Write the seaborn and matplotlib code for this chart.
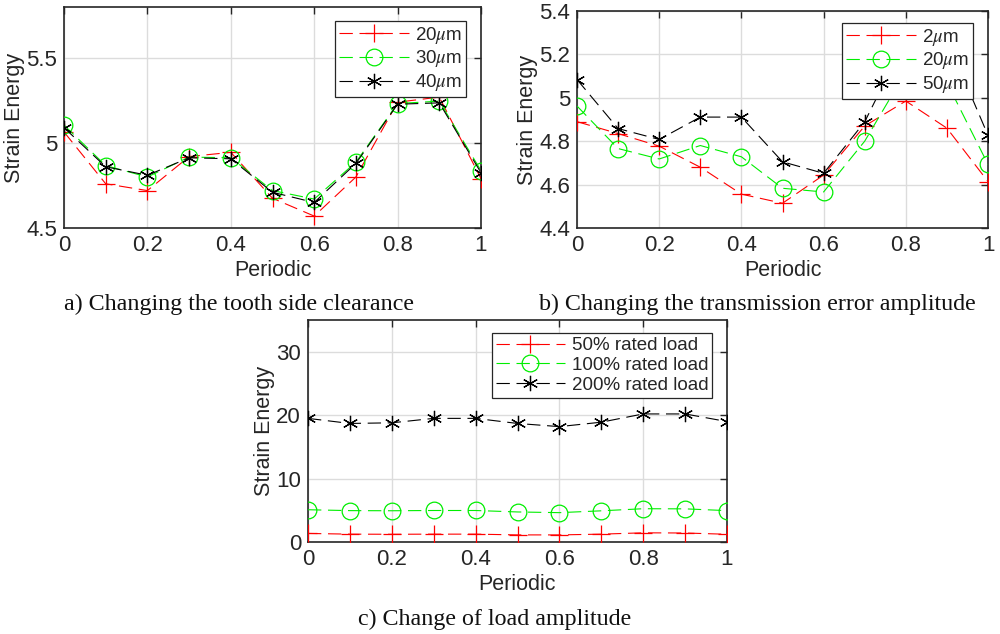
import numpy as np
import pandas as pd
import matplotlib
matplotlib.use("Agg")
import matplotlib.pyplot as plt
import seaborn as sns
from matplotlib.ticker import FuncFormatter

# shared x axis: fraction of the period
periodic = [0, 0.1, 0.2, 0.3, 0.4, 0.5, 0.6, 0.7, 0.8, 0.9, 1.0]

# a) tooth side clearance
clear_labels = [r"20$\mu$m", r"30$\mu$m", r"40$\mu$m"]
clear_20 = [5.065, 4.76, 4.72, 4.92, 4.945, 4.675, 4.57, 4.80, 5.24, 5.27, 4.79]
clear_30 = [5.105, 4.867, 4.80, 4.917, 4.913, 4.72, 4.67, 4.887, 5.232, 5.246, 4.837]
clear_40 = [5.09, 4.86, 4.81, 4.913, 4.907, 4.71, 4.65, 4.88, 5.228, 5.236, 4.825]

# b) transmission error amplitude
te_labels = [r"2$\mu$m", r"20$\mu$m", r"50$\mu$m"]
te_2 = [4.89, 4.835, 4.777, 4.68, 4.556, 4.514, 4.644, 4.87, 4.985, 4.86, 4.614]
te_20 = [4.962, 4.766, 4.718, 4.78, 4.728, 4.583, 4.566, 4.80, 5.12, 5.07, 4.693]
te_50 = [5.084, 4.858, 4.808, 4.911, 4.911, 4.705, 4.652, 4.889, 5.27, 5.27, 4.827]

# c) load amplitude
load_labels = ["50% rated load", "100% rated load", "200% rated load"]
load_50 = [1.35, 1.24, 1.22, 1.24, 1.24, 1.12, 1.12, 1.24, 1.45, 1.42, 1.22]
load_100 = [5.09, 4.95, 4.93, 4.97, 4.97, 4.74, 4.63, 4.92, 5.25, 5.23, 4.95]
load_200 = [19.5, 18.7, 18.8, 19.5, 19.5, 18.7, 18.2, 18.9, 20.2, 20.2, 19.0]

colors = ["#ff0000", "#00ee00", "#000000"]
markers = ["+", "o", (6, 2, 0)]
msizes = [13, 12, 11]


def draw_panel(ax, series, labels, ylim, yticks, anchor):
    for vals, lab, col, mk, ms in zip(series, labels, colors, markers, msizes):
        df = pd.DataFrame({"periodic": periodic, "energy": vals})
        sns.lineplot(data=df, x="periodic", y="energy", ax=ax, label=lab,
                     color=col, marker=mk, markersize=ms,
                     markerfacecolor="none", markeredgecolor=col,
                     markeredgewidth=0.9, linewidth=0.8,
                     dashes=(12, 6), errorbar=None, zorder=3)
    ax.set_xlim(0, 1)
    ax.set_ylim(*ylim)
    ax.set_xticks([0, 0.2, 0.4, 0.6, 0.8, 1.0])
    ax.set_yticks(yticks)
    fmt = FuncFormatter(lambda v, p: "%g" % round(v, 3))
    ax.xaxis.set_major_formatter(fmt)
    ax.yaxis.set_major_formatter(fmt)
    ax.set_xlabel("Periodic", fontsize=15.5, labelpad=3)
    ax.set_ylabel("Strain Energy", fontsize=15.5, labelpad=1)
    ax.tick_params(direction="in", length=5, width=1, labelsize=16,
                   top=True, right=True, colors="#262626", pad=5)
    ax.grid(True, color="#dcdcdc", linewidth=1.0)
    for sp in ax.spines.values():
        sp.set_color("#262626")
        sp.set_linewidth(1.2)
    leg = ax.legend(frameon=True, fancybox=False, framealpha=1,
                    edgecolor="#262626", fontsize=13.5, handlelength=3.7,
                    borderpad=0.2, labelspacing=0.15, handletextpad=0.35,
                    borderaxespad=0, loc="upper right", bbox_to_anchor=anchor)
    leg.get_frame().set_linewidth(0.9)


def main():
    sns.set_theme(style="whitegrid")
    plt.rcParams["font.family"] = ["Liberation Sans", "DejaVu Sans"]
    plt.rcParams["mathtext.fontset"] = "stix"

    fig = plt.figure(figsize=(10, 6.34), dpi=100)
    ax_a = fig.add_axes([0.064, 0.6404, 0.417, 0.3486])
    ax_b = fig.add_axes([0.577, 0.6404, 0.411, 0.3423])
    ax_c = fig.add_axes([0.308, 0.1451, 0.419, 0.350])

    draw_panel(ax_a, [clear_20, clear_30, clear_40], clear_labels,
               (4.5, 5.8), [4.5, 5.0, 5.5], (0.964, 0.937))
    draw_panel(ax_b, [te_2, te_20, te_50], te_labels,
               (4.4, 5.4), [4.4, 4.6, 4.8, 5.0, 5.2, 5.4], (0.9635, 0.945))
    draw_panel(ax_c, [load_50, load_100, load_200], load_labels,
               (0, 35), [0, 10, 20, 30], (0.964, 0.941))

    cap = dict(fontsize=17.3, family=["Liberation Serif", "DejaVu Serif"],
               ha="center", va="center", color="#111111")
    fig.text(0.239, 1 - 304 / 634, "a) Changing the tooth side clearance", **cap)
    fig.text(0.757, 1 - 304 / 634, "b) Changing the transmission error amplitude", **cap)
    fig.text(0.495, 1 - 619 / 634, "c) Change of load amplitude", **cap)

    fig.savefig("out.png", dpi=100)
    plt.close(fig)


if __name__ == "__main__":
    main()
